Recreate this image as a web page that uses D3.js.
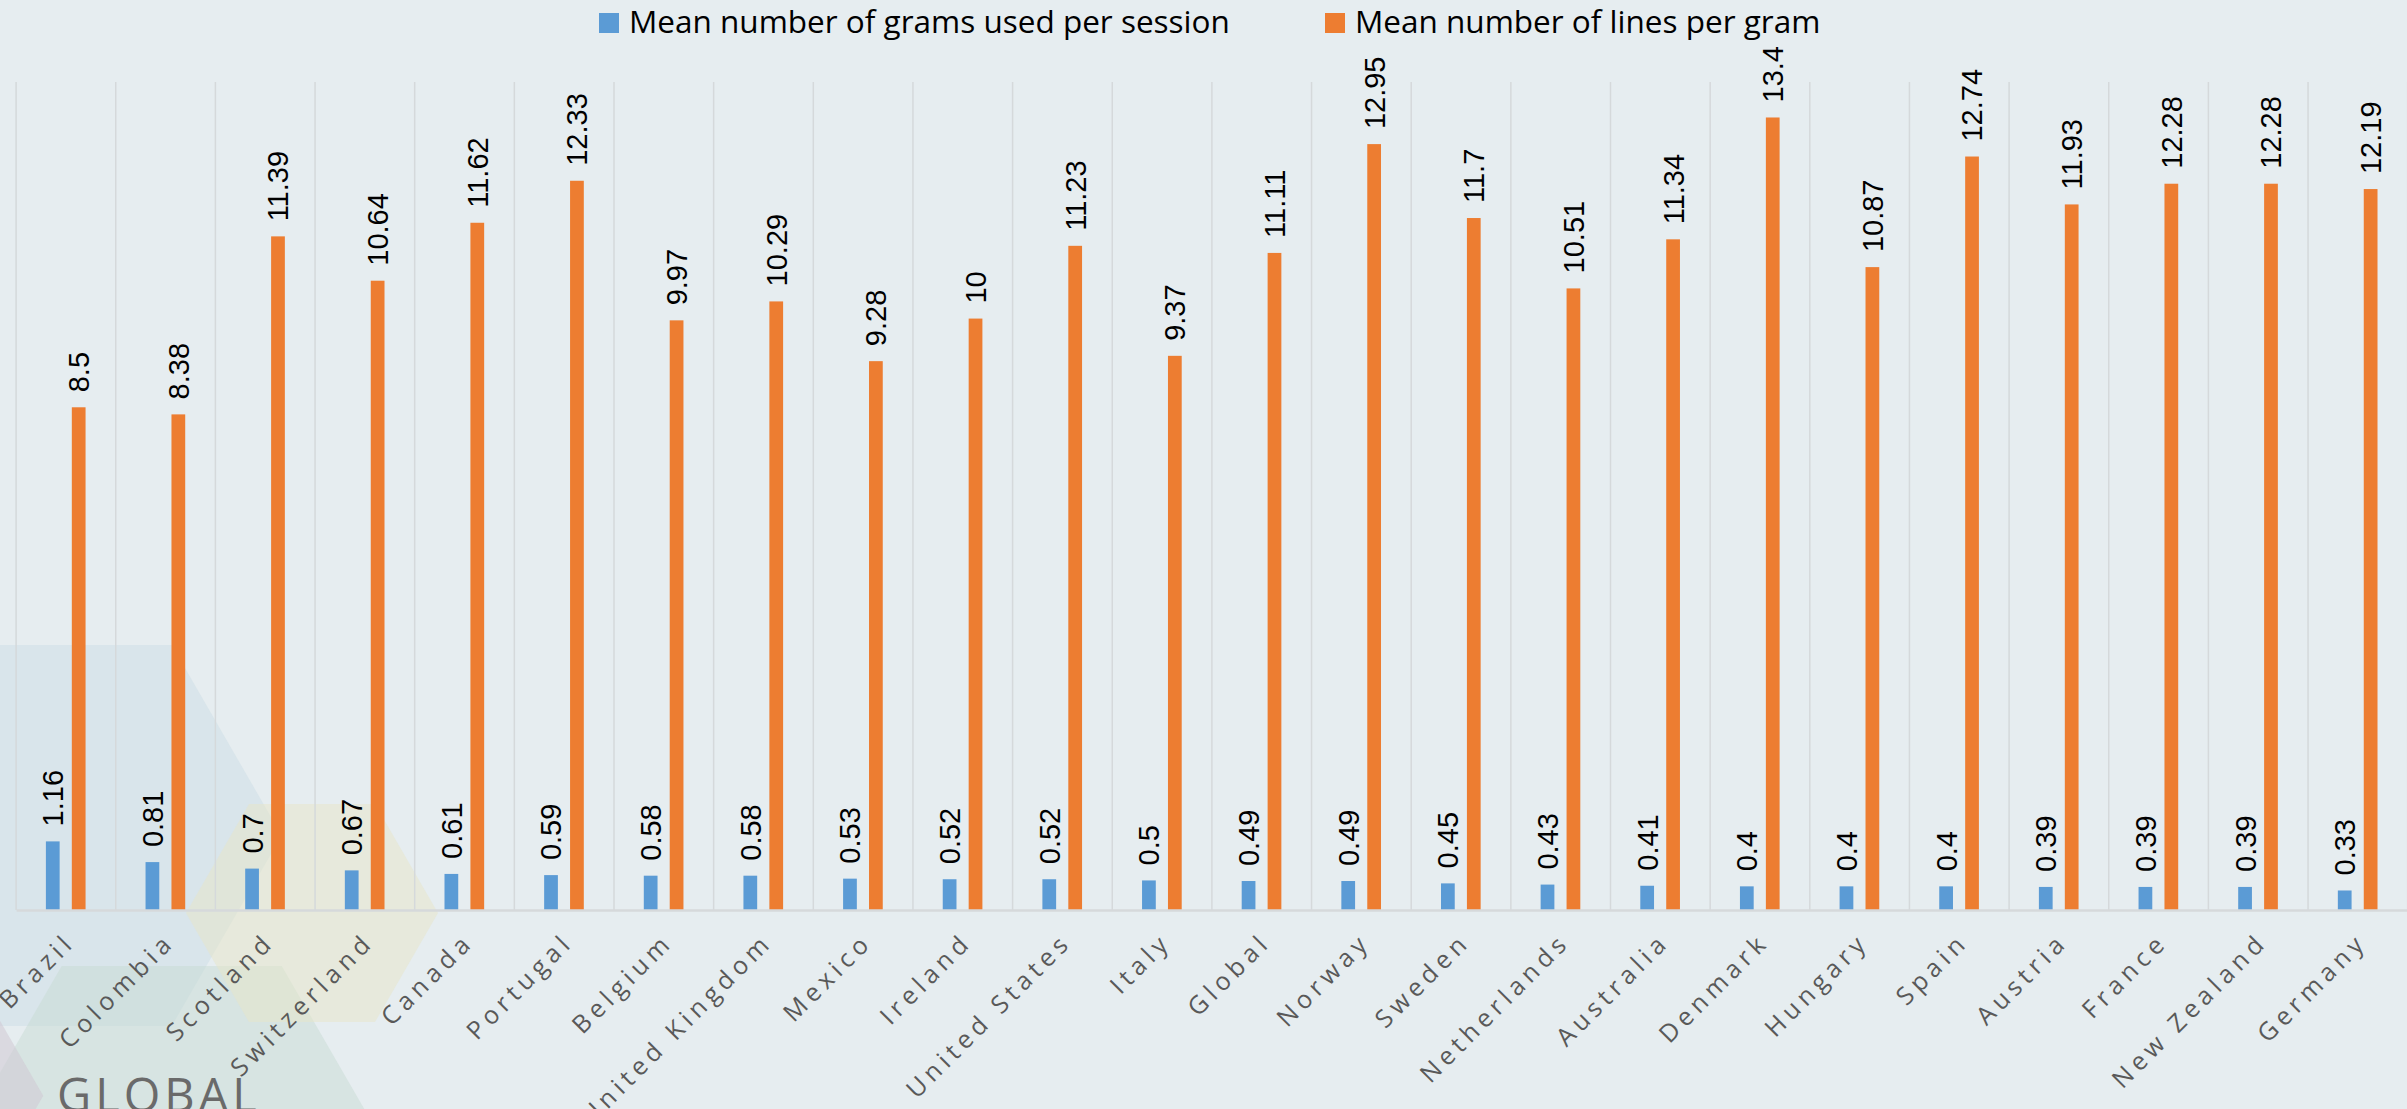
<!DOCTYPE html>
<html><head><meta charset="utf-8">
<script src="https://cdn.jsdelivr.net/npm/d3@7"></script>
<style>
html,body{margin:0;padding:0;background:#e6edf0;overflow:hidden}
svg{display:block}
</style>
</head><body>
<svg id="chart" width="2407" height="1109"></svg>
<script>
// ---- data ----
const categories = ["Brazil","Colombia","Scotland","Switzerland","Canada","Portugal","Belgium","United Kingdom","Mexico","Ireland","United States","Italy","Global","Norway","Sweden","Netherlands","Australia","Denmark","Hungary","Spain","Austria","France","New Zealand","Germany"];
const gramsPerSession = [1.16,0.81,0.7,0.67,0.61,0.59,0.58,0.58,0.53,0.52,0.52,0.5,0.49,0.49,0.45,0.43,0.41,0.4,0.4,0.4,0.39,0.39,0.39,0.33];
const linesPerGram = [8.5,8.38,11.39,10.64,11.62,12.33,9.97,10.29,9.28,10,11.23,9.37,11.11,12.95,11.7,10.51,11.34,13.4,10.87,12.74,11.93,12.28,12.28,12.19];
const seriesNames = ["Mean number of grams used per session","Mean number of lines per gram"];
const seriesColors = ["#5b9bd5","#ed7d31"];
const yDomain = [0, 14];

// ---- layout ----
const W = 2407, H = 1109;
const plot = {left: 16.1, right: 2407.7, top: 82, bottom: 910};
const svg = d3.select("#chart");

// background decoration (hexagons)
const bg = svg.append("g");
bg.append("rect").attr("width", W).attr("height", H).attr("fill", "#e6edf0");
const hexes = [
  {cx: 61.7, cy: 835.5, r: 220, fill: "rgb(204,222,230)", op: 0.5},
  {cx: 171.7, cy: 1156.5, r: 220, fill: "rgb(200,219,212)", op: 0.5},
  {cx: 312, cy: 913, r: 126, fill: "rgb(232,230,200)", op: 0.5},
  {cx: -176.7, cy: 1095.7, r: 220, fill: "rgb(207,200,212)", op: 0.55}
];
const hexLine = d3.line();
hexes.forEach(h => {
  const pts = d3.range(6).map(i => {
    const a = Math.PI / 3 * i;
    return [h.cx + h.r * Math.cos(a), h.cy + h.r * Math.sin(a)];
  });
  bg.append("path").attr("d", hexLine(pts) + "Z").attr("fill", h.fill).attr("fill-opacity", h.op);
});
bg.append("text").attr("x", 57).attr("y", 1112).text("GLOBAL")
  .attr("font-family", "'Open Sans', sans-serif").attr("font-size", 47)
  .attr("letter-spacing", "4px").attr("fill", "#6a6a6a");

// scales
const x0 = d3.scaleBand().domain(categories).range([plot.left, plot.right]).paddingInner(0).paddingOuter(0);
const bw = x0.bandwidth();
const x1 = d3.scaleBand().domain(seriesNames).range([0.299 * bw, 0.697 * bw]).paddingInner(0.47);
const y = d3.scaleLinear().domain(yDomain).range([plot.bottom, plot.top]);

// vertical gridlines between categories
const gridX = categories.map(c => x0(c)).concat([plot.right]);
svg.append("g").selectAll("line").data(gridX).join("line")
  .attr("x1", d => d).attr("x2", d => d)
  .attr("y1", y(yDomain[1])).attr("y2", y(0))
  .attr("stroke", "#d5d9db").attr("stroke-width", 1.5);

// bars
const series = [gramsPerSession, linesPerGram];
const gBars = svg.append("g");
series.forEach((vals, si) => {
  const name = seriesNames[si];
  gBars.append("g").selectAll("rect").data(vals).join("rect")
    .attr("x", (d, i) => x0(categories[i]) + x1(name))
    .attr("width", x1.bandwidth())
    .attr("y", d => y(d))
    .attr("height", d => y(0) - y(d))
    .attr("fill", seriesColors[si]);
  gBars.append("g").selectAll("text").data(vals).join("text")
    .attr("transform", (d, i) => `translate(${x0(categories[i]) + x1(name) + x1.bandwidth() / 2},${y(d) - 15}) rotate(-90)`)
    .attr("dy", "0.36em")
    .attr("text-anchor", "start")
    .attr("font-family", "'Liberation Sans', Arial, sans-serif")
    .attr("font-size", 29)
    .attr("fill", "#000")
    .text(d => d);
});

// category axis
const axis = svg.append("g").attr("transform", `translate(0,${y(0)})`)
  .call(d3.axisBottom(x0).tickSize(0).tickSizeOuter(0));
axis.select(".domain").attr("stroke", "#d6d9db").attr("stroke-width", 2.5);
axis.selectAll(".tick text")
  .attr("x", 0).attr("y", 0).attr("dy", 0).attr("dx", 5)
  .attr("transform", "translate(7,37) rotate(-45)")
  .attr("text-anchor", "end")
  .attr("font-family", "'Open Sans', sans-serif")
  .attr("font-size", 25)
  .attr("letter-spacing", "5px")
  .attr("fill", "#595959");

// legend
const legendPos = [{sx: 599, tx: 629}, {sx: 1325, tx: 1355}];
const legend = svg.append("g");
seriesNames.forEach((n, i) => {
  legend.append("rect").attr("x", legendPos[i].sx).attr("y", 13).attr("width", 20).attr("height", 20).attr("fill", seriesColors[i]);
  legend.append("text").attr("x", legendPos[i].tx).attr("y", 32.7).text(n)
    .attr("font-family", "'Open Sans', sans-serif").attr("font-size", 31.5).attr("fill", "#000");
});
</script>
</body></html>
